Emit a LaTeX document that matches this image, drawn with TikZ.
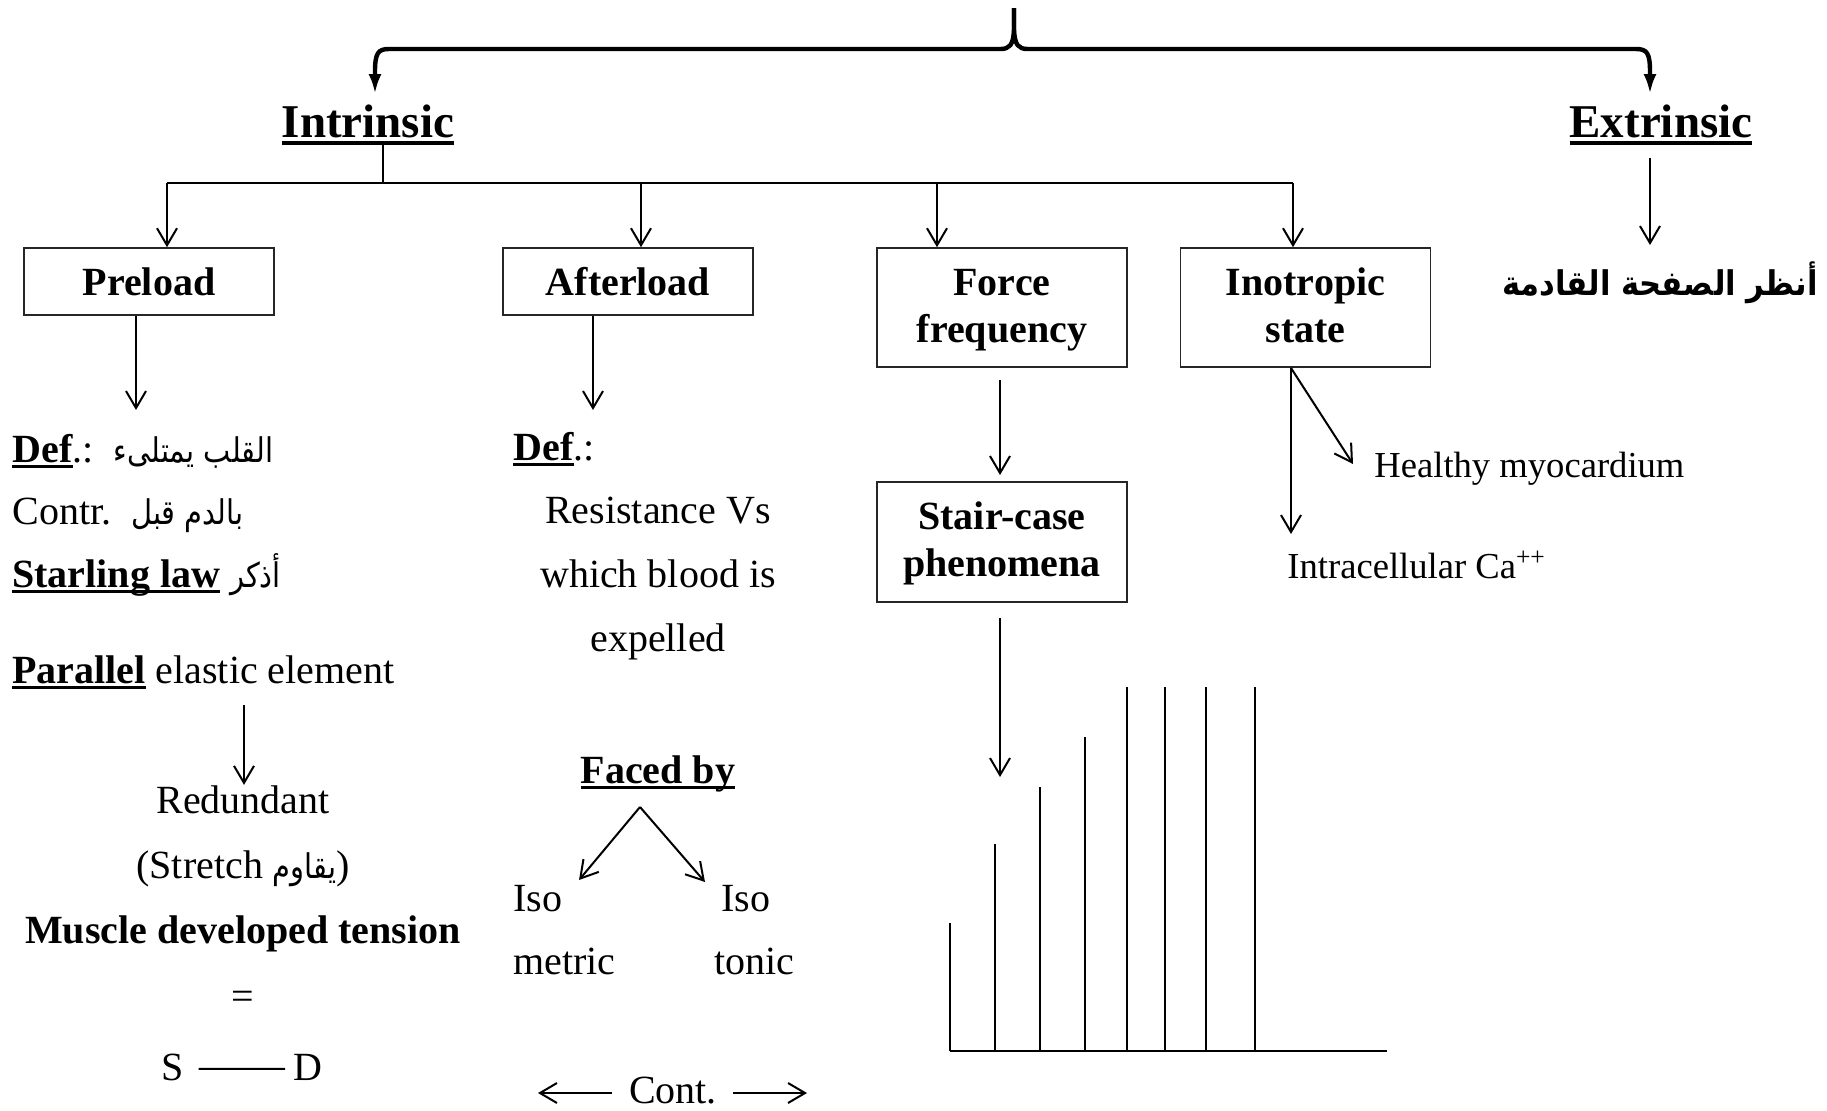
\documentclass[tikz,border=0pt]{standalone}
\usepackage{fontspec}
\usepackage{graphicx}
\setmainfont{Liberation Serif}
\newfontfamily\arabicfont[Script=Arabic]{DejaVu Sans}
\TeXXeTstate=1
\usetikzlibrary{arrows.meta,calc}

% underlined word: #1 = gap below baseline, #2 = rule thickness, #3 = text
\newcommand\ulword[3]{\setbox0\hbox{#3}\rlap{\rule[-#1]{\wd0}{#2}}\box0\relax}
\newcommand\ul[1]{\ulword{3pt}{1.3pt}{#1}}
% Arabic run, set a little narrower than the Latin text around it
\newcommand\ar[1]{\scalebox{0.85}[1]{\fontsize{17}{20}\arabicfont\beginR #1\endR}}
% struts that fix the line height inside the boxes
\newcommand\bst{\rule[-6pt]{0pt}{23pt}}
\newcommand\sst{\rule[-4.5pt]{0pt}{22.5pt}}

\tikzset{
  txt/.style={inner sep=0pt, font=\fontsize{20}{24}\selectfont},
  txtS/.style={inner sep=0pt, font=\fontsize{18.3}{22}\selectfont},
  head/.style={inner sep=0pt, font=\fontsize{23.5}{28}\selectfont\bfseries},
  box/.style={draw=black!85, line width=0.8pt, inner sep=0pt, minimum width=125pt,
    align=center, font=\fontsize{20}{23.5}\selectfont\bfseries},
  plain/.style={line width=1pt},
  arr/.style={line width=1pt, -{Straight Barb[length=8.5pt,width=10pt]}},
  brace/.style={line width=2.2pt, line join=round, -{Latex[length=10pt,width=6.5pt]}},
  bar/.style={line width=1pt},
}

\begin{document}
\begin{tikzpicture}[x=0.5pt, y=-0.5pt]
\useasboundingbox (0,0) rectangle (1827,1110);

% ---------- top brace ----------
\node[head, anchor=base] (intr) at (368,137) {\ulword{4pt}{2pt}{Intrinsic}};
\node[head, anchor=base] (extr) at (1661,137) {\ulword{4pt}{2pt}{Extrinsic}};
\coordinate (top) at (1014,8);
\coordinate (lt) at (375,94);
\coordinate (rt) at (1650,94);
\draw[brace] (top) -- (1014,30) .. controls (1013,45) and (1010,49) .. (1000,49)
  -- (389,49) .. controls (378,49) and (375,53) .. (375,72) -- (lt);
\draw[brace] (top) -- (1014,30) .. controls (1015,45) and (1018,49) .. (1028,49)
  -- (1636,49) .. controls (1647,49) and (1650,53) .. (1650,72) -- (rt);

% ---------- intrinsic branches ----------
\node[box, minimum height=33.5pt] (pre) at (149,281.5) {\sst Preload};
\node[box, minimum height=33.5pt] (aft) at (628,281.5) {\sst Afterload};
\node[box, minimum height=59.5pt] (frc) at (1002,307.5) {\bst Force\\\bst frequency};
\node[box, minimum height=59.5pt] (ino) at (1305.5,307.5) {\bst Inotropic\\\bst state};

\coordinate (bus) at (383,183);
\coordinate (b1) at (167,183);
\coordinate (b2) at (641,183);
\coordinate (b3) at (937,183);
\coordinate (b4) at (1293,183);
\draw[plain] (bus |- intr.south) -- (bus);
\draw[plain] (b1) -- (b4);
\draw[arr] (b1) -- (b1 |- pre.north);
\draw[arr] (b2) -- (b2 |- aft.north);
\draw[arr] (b3) -- (b3 |- frc.north);
\draw[arr] (b4) -- (b4 |- ino.north);

% ---------- extrinsic ----------
\node[anchor=base east, inner sep=0pt] (see) at (1818,295)
  {\scalebox{0.9}[1]{\fontsize{17}{22}\selectfont\arabicfont\bfseries\beginR أنظر الصفحة القادمة\endR}};
\coordinate (e1) at (1650,158);
\draw[arr] (e1) -- (1650,245);

% ---------- preload column ----------
\coordinate (p1) at (136,410);
\draw[arr] (p1 |- pre.south) -- (p1);
\node[txt, anchor=base west] (def1) at (12,462) {\ul{\textbf{Def}}.:\ \ \ar{القلب يمتلىء}};
\node[txt, anchor=base west] (def2) at (12,524) {Contr.\ \ \ar{بالدم قبل}};
\node[txt, anchor=base west] (def3) at (12,587) {\ul{\textbf{Starling law}} \ar{أذكر}};
\node[txt, anchor=base west] (par) at (12,683) {\ul{\textbf{Parallel}} elastic element};
\node[txt, anchor=base] (red) at (243,813) {Redundant};
\node[txt, anchor=base] (str) at (243,878) {(Stretch \ar{يقاوم})};
\node[txt, anchor=base] (mdt) at (243,943) {\textbf{Muscle developed tension}};
\node[txt] (eq) at (243,1000) {=};
\node[txt, anchor=base] (S) at (173,1080) {S};
\node[txt, anchor=base] (D) at (308,1080) {D};
\coordinate (p2) at (244,705);
\draw[arr] (p2) -- (red.north -| p2);
\draw[plain] ($(S.east)+(14,2)$) -- ($(D.west)+(-8,2)$);

% ---------- afterload column ----------
\coordinate (a1) at (593,410);
\draw[arr] (a1 |- aft.south) -- (a1);
\node[txt, anchor=base west] (def4) at (513,460) {\ul{\textbf{Def}}.:};
\node[txt, anchor=base] (r1) at (658,523) {Resistance Vs};
\node[txt, anchor=base] (r2) at (658,587) {which blood is};
\node[txt, anchor=base] (r3) at (658,651) {expelled};
\node[txt, anchor=base] (faced) at (658,783) {\ul{\textbf{Faced by}}};
\coordinate (apex) at (640,807);
\coordinate (tipl) at (579,880);
\coordinate (tipr) at (705,882);
\draw[arr] (apex) -- (tipl);
\draw[arr] (apex) -- (tipr);
\node[txt, anchor=base west] (iso1) at (513,911) {Iso};
\node[txt, anchor=base west] (met) at (513,974) {metric};
\node[txt, anchor=base west] (iso2) at (721,911) {Iso};
\node[txt, anchor=base west] (ton) at (714,974) {tonic};
\node[txt, anchor=base] (cont) at (673,1103) {Cont.};
\coordinate (cl) at (538,1093);
\coordinate (cr) at (807,1093);
\draw[arr] (612,1093) -- (cl);
\draw[arr] (733,1093) -- (cr);

% ---------- force frequency column ----------
\node[box, minimum height=60pt] (stair) at (1002,542) {\bst Stair-case\\\bst phenomena};
\coordinate (f1) at (1000,475);
\draw[arr] (f1 |- frc.south) ++(0,12) -- (f1);
\coordinate (f2) at (1000,777);
\draw[arr] (f1 |- stair.south) ++(0,15) -- (f2);

% staircase record
\coordinate (base0) at (950,1051);
\coordinate (base1) at (1387,1051);
\draw[line width=1.3pt] (base0) -- (base1);
\foreach \xx/\yy in {950/923, 995/844, 1040/787, 1085/737, 1127/687, 1165/687, 1206/687, 1255/687}
  \draw[bar] (\xx,1051) -- (\xx,\yy);

% ---------- inotropic column ----------
\coordinate (i0) at (1291,368);
\coordinate (i1) at (1353,464);
\coordinate (i2) at (1291,534);
\draw[arr] (i0) -- (i1);
\draw[arr] (i0) -- (i2);
\node[txtS, anchor=base west] (hm) at (1374,477) {Healthy myocardium};
\node[txtS, anchor=base west] (ica) at (1287,578) {Intracellular Ca\textsuperscript{++}};
\end{tikzpicture}
\end{document}
